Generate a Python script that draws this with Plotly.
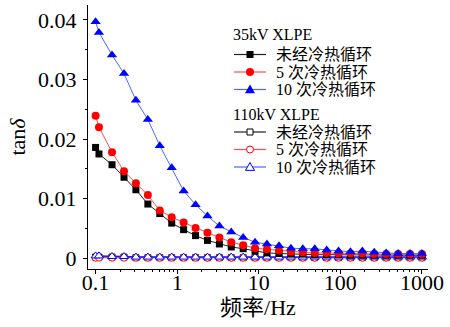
import plotly.graph_objects as go

freq = [0.1, 0.11, 0.159, 0.223, 0.312, 0.437, 0.612, 0.857, 1.2, 1.68, 2.35, 3.29, 4.6, 6.44,
        9.0, 12.6, 17.7, 24.8, 34.7, 48.5, 68, 95, 133, 186, 260, 364, 510, 714, 1000]

kv35_c0 = [0.0186, 0.0175, 0.0157, 0.0136, 0.0115, 0.0091, 0.0075, 0.0059, 0.0048, 0.0038,
           0.0030, 0.0024, 0.0019, 0.0016, 0.0012, 0.0009, 0.0008, 0.0007, 0.0007, 0.0006,
           0.0006, 0.0006, 0.0005, 0.0005, 0.0005, 0.0005, 0.0005, 0.0005, 0.0005]
kv35_c5 = [0.0239, 0.0220, 0.0178, 0.0146, 0.0126, 0.0106, 0.0080, 0.0069, 0.0060, 0.0051,
           0.0043, 0.0035, 0.0027, 0.0022, 0.0017, 0.0015, 0.0013, 0.0011, 0.0010, 0.0009,
           0.0009, 0.0008, 0.0008, 0.0008, 0.0007, 0.0007, 0.0007, 0.0007, 0.0007]
kv35_c10 = [0.0397, 0.0379, 0.0341, 0.0310, 0.0265, 0.0233, 0.0189, 0.0152, 0.0113, 0.0090,
            0.0071, 0.0054, 0.0044, 0.0035, 0.0027, 0.0024, 0.0021, 0.0017, 0.0016, 0.0016,
            0.0014, 0.0012, 0.0011, 0.0012, 0.0010, 0.0009, 0.0008, 0.0008, 0.0008]
kv110_c0 = [0.0002, 0.0002, 0.0002, 0.0002, 0.0001, 0.0001, 0.0001, 0.0001, 0.0001, 0.0001,
            0.0001, 0.0001, 0.0001, 0.0001, 0.0001, 0.0001, 0.0001, 0.0001, 0.0001, 0.0001,
            0.0001, 0.0001, 0.0001, 0.0001, 0.0001, 0.0001, 0.0001, 0.0001, 0.0001]
kv110_c5 = [0.0001, 0.0001, 0.0001, 0.0001, 0.0001, 0.0001, 0.0001, 0.0001, 0.0001, 0.0001,
            0.0001, 0.0001, 0.0001, 0.0001, 0.0001, 0.0001, 0.0001, 0.0001, 0.0001, 0.0001,
            0.0001, 0.0001, 0.0001, 0.0001, 0.0001, 0.0001, 0.0001, 0.0001, 0.0001]
kv110_c10 = [0.0004, 0.0004, 0.0003, 0.0003, 0.0002, 0.0002, 0.0002, 0.0002, 0.0002, 0.0002,
             0.0002, 0.0002, 0.0002, 0.0002, 0.0002, 0.0002, 0.0002, 0.0002, 0.0002, 0.0002,
             0.0002, 0.0002, 0.0002, 0.0002, 0.0002, 0.0002, 0.0002, 0.0002, 0.0002]

names = ["未经冷热循环", "5 次冷热循环", "10 次冷热循环"]
group_titles = ["35kV XLPE", "110kV XLPE"]

x_tick_vals = [0.1, 1, 10, 100, 1000]
x_tick_text = ["0.1", "1", "10", "100", "1000"]
y_tick_vals = [0, 0.01, 0.02, 0.03, 0.04]
y_tick_text = ["0", "0.01", "0.02", "0.03", "0.04"]
minor_decades = [0.1, 1, 10, 100]
minor_digits = [2, 3, 4, 5, 6, 7, 8, 9]
x_minor_vals = [d * k for d in minor_decades for k in minor_digits]

SERIF = "Liberation Serif, Noto Sans CJK SC, serif"

# plot area geometry (pixels)
W, H = 450, 327
ML, MR, MT, MB = 88, 22, 5, 58
PW, PH = W - ML - MR, H - MT - MB


def px(x):
    return (x - ML) / PW


def py(y):
    return (H - MB - y) / PH


styles = [
    ("black", "#222222", "square", 7),
    ("#ff0000", "#ff4d4d", "circle", 8),
    ("#0000ff", "#4d66ff", "triangle-up", 9),
]

fig = go.Figure()

for i, ys in enumerate([kv110_c0, kv110_c5, kv110_c10]):
    mc, lc, sym, sz = styles[i]
    fig.add_trace(go.Scatter(
        x=freq, y=ys, mode="lines+markers", name="110kV " + names[i], showlegend=False,
        line=dict(color=lc if i < 2 else "#1a1aff", width=1 if i < 2 else 1.5),
        marker=dict(symbol=sym, size=sz - 1, color="white", line=dict(width=1, color=mc)),
    ))

for i, ys in enumerate([kv35_c0, kv35_c5, kv35_c10]):
    mc, lc, sym, sz = styles[i]
    fig.add_trace(go.Scatter(
        x=freq, y=ys, mode="lines+markers", name="35kV " + names[i], showlegend=False,
        line=dict(color=lc, width=1),
        marker=dict(symbol=sym, size=sz, color=mc, line=dict(width=0)),
    ))

# ---- manual legend (two groups) ----
shapes = []
annotations = []
LX0, LX1, MX, TX = 234, 266, 250, 274
group_rows = [(34, [54.5, 72, 89.5]), (115, [132, 149.5, 167])]
for g, (ty, rows) in enumerate(group_rows):
    annotations.append(dict(
        x=px(231), y=py(ty), xref="paper", yref="paper", xanchor="left", yanchor="middle",
        text=group_titles[g], showarrow=False, font=dict(family=SERIF, size=16, color="black")))
    for i, ry in enumerate(rows):
        mc, lc, sym, sz = styles[i]
        shapes.append(dict(type="line", xref="paper", yref="paper",
                           x0=px(LX0), x1=px(LX1), y0=py(ry), y1=py(ry),
                           line=dict(color=lc, width=1.2)))
        fill = mc if g == 0 else "white"
        lw = 0 if g == 0 else 1
        if sym == "square":
            r = 3.5 if g == 0 else 3
            shapes.append(dict(type="rect", xref="paper", yref="paper",
                               x0=px(MX - r), x1=px(MX + r), y0=py(ry - r), y1=py(ry + r),
                               fillcolor=fill, line=dict(color=mc, width=lw)))
        elif sym == "circle":
            r = 4 if g == 0 else 3.5
            shapes.append(dict(type="circle", xref="paper", yref="paper",
                               x0=px(MX - r), x1=px(MX + r), y0=py(ry - r), y1=py(ry + r),
                               fillcolor=fill, line=dict(color=mc, width=lw)))
        else:
            r = 5 if g == 0 else 4.5
            path = "M {:.5f},{:.5f} L {:.5f},{:.5f} L {:.5f},{:.5f} Z".format(
                px(MX), py(ry - r), px(MX + r), py(ry + r * 0.75), px(MX - r), py(ry + r * 0.75))
            shapes.append(dict(type="path", xref="paper", yref="paper", path=path,
                               fillcolor=fill, line=dict(color=mc, width=lw)))
        annotations.append(dict(
            x=px(TX), y=py(ry), xref="paper", yref="paper", xanchor="left", yanchor="middle",
            text=names[i], showarrow=False, font=dict(family=SERIF, size=16, color="black")))

fig.update_layout(
    width=W, height=H,
    margin=dict(l=ML, r=MR, t=MT, b=MB),
    paper_bgcolor="white", plot_bgcolor="white",
    font=dict(family=SERIF, size=21, color="black"),
    showlegend=False,
    shapes=shapes,
    annotations=annotations,
    xaxis=dict(
        type="log", range=[-1.093, 3.074], automargin=False,
        showline=True, linecolor="black", linewidth=1,
        ticks="outside", ticklen=4, tickcolor="black",
        tickvals=x_tick_vals, ticktext=x_tick_text,
        showgrid=False, zeroline=False,
        minor=dict(ticks="outside", ticklen=2, tickcolor="black", tickvals=x_minor_vals,
                   showgrid=False),
        title=dict(text="频率/Hz", font=dict(family=SERIF, size=22), standoff=2),
        tickfont=dict(family=SERIF, size=22),
        ticklabelstandoff=-10,
    ),
    yaxis=dict(
        range=[-0.0018, 0.0425], automargin=False,
        showline=True, linecolor="black", linewidth=1,
        ticks="outside", ticklen=4, tickcolor="black",
        tickvals=y_tick_vals, ticktext=y_tick_text,
        showgrid=False, zeroline=False,
        minor=dict(ticks="outside", ticklen=2, tickcolor="black", dtick=0.005, showgrid=False),
        title=dict(text="tan<i>δ</i>", font=dict(family=SERIF, size=22), standoff=6),
        tickfont=dict(family=SERIF, size=22),
        ticklabelstandoff=2,
    ),
)

fig.write_html(
    "out.html",
    config={"displayModeBar": False},
    post_script="document.body.style.margin='0';document.body.style.padding='0';",
)
